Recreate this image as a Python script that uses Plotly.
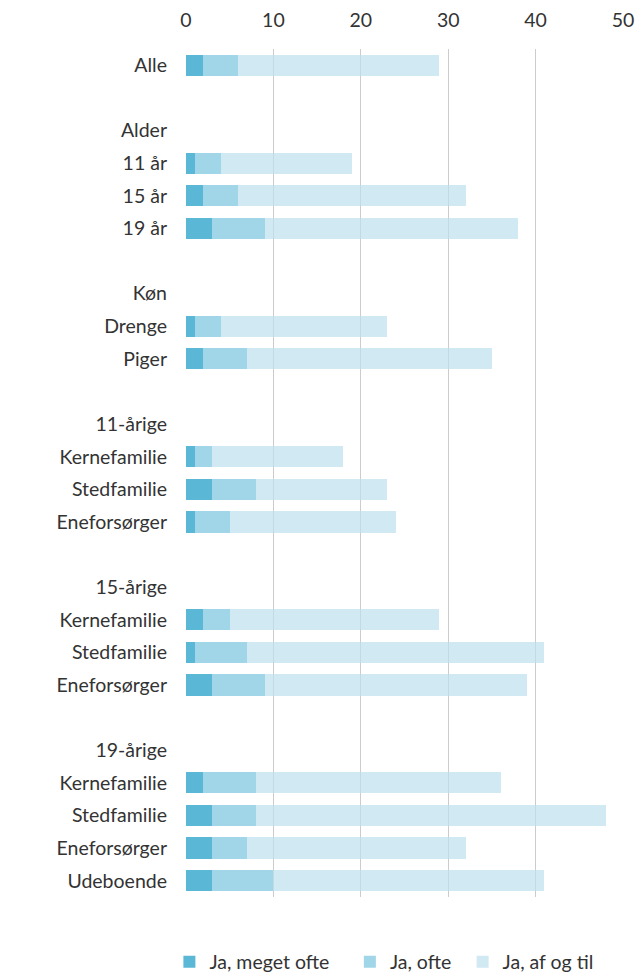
import plotly.graph_objects as go

# rows top to bottom; "" = spacer row, group headers carry no values
labels = ["Alle", "", "Alder", "11 år", "15 år", "19 år", "", "Køn", "Drenge", "Piger", "",
          "11-årige", "Kernefamilie", "Stedfamilie", "Eneforsørger", "",
          "15-årige", "Kernefamilie", "Stedfamilie", "Eneforsørger", "",
          "19-årige", "Kernefamilie", "Stedfamilie", "Eneforsørger", "Udeboende"]

meget_ofte = [2, None, None, 1, 2, 3, None, None, 1, 2, None,
              None, 1, 3, 1, None, None, 2, 1, 3, None, None, 2, 3, 3, 3]
ofte = [4, None, None, 3, 4, 6, None, None, 3, 5, None,
        None, 2, 5, 4, None, None, 3, 6, 6, None, None, 6, 5, 4, 7]
af_og_til = [23, None, None, 15, 26, 29, None, None, 19, 28, None,
             None, 15, 15, 19, None, None, 24, 34, 30, None, None, 28, 40, 25, 31]

series = [
    ("Ja, meget ofte", meget_ofte, "rgba(21,152,196,0.7)", "legend", -0.038),
    ("Ja, ofte", ofte, "rgba(119,196,221,0.7)", "legend2", 0.375),
    ("Ja, af og til", af_og_til, "rgba(189,224,236,0.7)", "legend3", 0.633),
]

rows = list(range(len(labels)))
font = "Lato, 'Open Sans', sans-serif"
txt = "#333333"
fs = 19.5

fig = go.Figure()
legends = {}
for name, vals, color, leg, lx in series:
    fig.add_trace(go.Bar(
        x=vals, y=rows, name=name, orientation="h", legend=leg,
        marker=dict(color=color, line=dict(width=0)),
    ))
    legends[leg] = dict(
        orientation="h", x=lx, xanchor="left", y=-0.0767, yanchor="middle",
        font=dict(family=font, size=fs, color=txt), bgcolor="rgba(0,0,0,0)",
    )

fig.update_layout(
    barmode="stack",
    bargap=0.35,
    width=636, height=973,
    margin=dict(l=186, r=13, t=49, b=76, autoexpand=False),
    paper_bgcolor="white", plot_bgcolor="white",
    font=dict(family=font, size=fs, color=txt),
    xaxis=dict(
        side="top", range=[0, 50], tickvals=[0, 10, 20, 30, 40, 50],
        showgrid=True, gridcolor="#cccccc", gridwidth=1, zeroline=False,
        showline=False, ticks="", ticklabelstandoff=17, automargin=False,
        tickfont=dict(size=fs, color=txt),
    ),
    yaxis=dict(
        tickvals=rows, ticktext=labels,
        range=[len(labels) - 0.5, -0.5],
        showgrid=False, zeroline=False, showline=False, ticks="",
        ticklabelstandoff=18, automargin=False,
        tickfont=dict(size=fs, color=txt),
    ),
    showlegend=True,
    **legends,
)

# drop the default page margin so the figure fills the window exactly
fig.write_html("out.html", config={"displayModeBar": False},
               post_script="document.body.style.margin='0';")
